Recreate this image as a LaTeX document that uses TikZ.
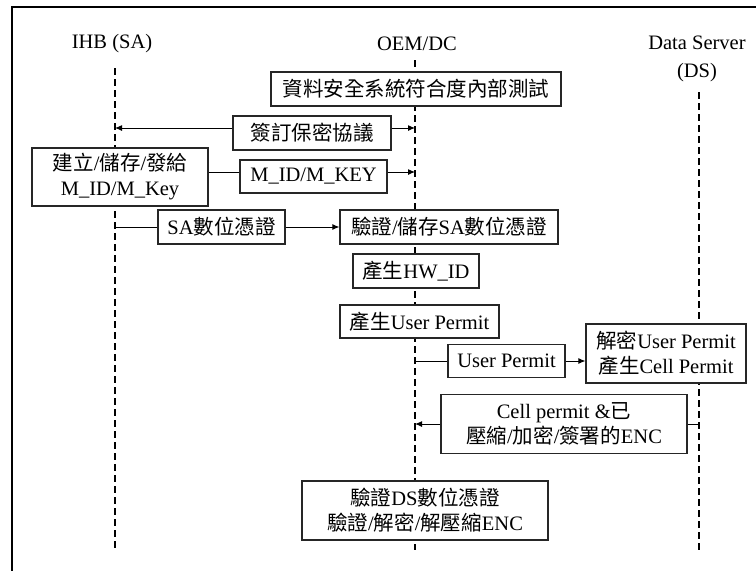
\documentclass[tikz,border=0pt]{standalone}
\usepackage{fontspec}
\setmainfont{Liberation Serif}
\newfontfamily\cjk{Noto Sans CJK TC}
\usetikzlibrary{arrows.meta}
\newcommand\zh[1]{{\cjk #1}}

\begin{document}
\begin{tikzpicture}[x=1pt,y=-1pt,
  box/.style={draw=black!85,line width=1.1pt,fill=white,inner sep=0pt,
    align=center,font=\fontsize{20.5}{25}\selectfont},
  lifeline/.style={line width=2.3pt,dash pattern=on 7pt off 4pt},
  msg/.style={line width=1pt,-{Latex[length=7pt,width=6pt]}},
  link/.style={line width=1pt},
  head/.style={font=\fontsize{20.5}{28}\selectfont,align=center,inner sep=0pt}]
\useasboundingbox (0,0) rectangle (756,571);

% open frame: left and top edges only
\draw[line width=2pt] (12,571) -- (12,7) -- (756,7);

% participants
\node[head] (hSA) at (112,44) {IHB (SA)};
\node[head] (hOEM) at (417,44) {OEM/DC};
\node[head] (hDS) at (697,59) {Data Server\\(DS)};

% lifelines
\coordinate (saT) at (115,68);   \coordinate (saB) at (115,550);
\coordinate (oemT) at (415,60);  \coordinate (oemB) at (415,550);
\coordinate (dsT) at (699,92);   \coordinate (dsB) at (699,550);
\draw[lifeline] (saT) -- (saB);
\draw[lifeline] (oemT) -- (oemB);
\draw[lifeline] (dsT) -- (dsB);

% steps
\node[box,minimum width=290,minimum height=34] (b1) at (416,89)
  {\zh{資料安全系統符合度內部測試}};
\node[box,minimum width=158,minimum height=34] (b2) at (312,133)
  {\zh{簽訂保密協議}};
\node[box,minimum width=176,minimum height=58] (b3) at (120,177)
  {\zh{建立}/\zh{儲存}/\zh{發給}\\M\_ID/M\_Key};
\node[box,minimum width=147,minimum height=33] (b4) at (313.5,176.5)
  {M\_ID/M\_KEY};
\node[box,minimum width=127,minimum height=34] (b5) at (221.5,227)
  {SA\zh{數位憑證}};
\node[box,minimum width=218,minimum height=34] (b6) at (449,227)
  {\zh{驗證}/\zh{儲存}SA\zh{數位憑證}};
\node[box,minimum width=126,minimum height=34] (b7) at (416,271)
  {\zh{產生}HW\_ID};
\node[box,minimum width=159,minimum height=33] (b8) at (419.5,321.5)
  {\zh{產生}User Permit};
\node[box,minimum width=117,minimum height=33] (b9) at (506.5,361)
  {User Permit};
\node[box,minimum width=160,minimum height=59] (b10) at (666,353.5)
  {\zh{解密}User Permit\\\zh{產生}Cell Permit};
\node[box,minimum width=246,minimum height=59] (b11) at (564,424)
  {Cell permit \&\zh{已}\\\zh{壓縮}/\zh{加密}/\zh{簽署的}ENC};
\node[box,minimum width=246,minimum height=59] (b12) at (425,510.5)
  {\zh{驗證}DS\zh{數位憑證}\\\zh{驗證}/\zh{解密}/\zh{解壓縮}ENC};

% messages
\coordinate (b2l) at ([yshift=5pt]b2.west);
\coordinate (b2r) at ([yshift=5pt]b2.east);
\draw[msg] (b2l) -- (b2l -| saT);
\draw[msg] (b2r) -- (b2r -| oemT);

\coordinate (b4l) at ([yshift=4.5pt]b4.west);
\coordinate (b4r) at ([yshift=4.5pt]b4.east);
\draw[link] (b4l -| b3.east) -- (b4l);
\draw[msg] (b4r) -- (b4r -| oemT);

\draw[link] (b5.west -| saT) -- (b5.west);
\draw[msg] (b5.east) -- (b5.east -| b6.west);

\draw[link] (b9.west -| oemT) -- (b9.west);
\draw[msg] (b9.east) -- (b9.east -| b10.west);

\draw[link] (b11.east -| dsT) -- (b11.east);
\draw[msg] (b11.west) -- (b11.west -| oemT);
\end{tikzpicture}
\end{document}
